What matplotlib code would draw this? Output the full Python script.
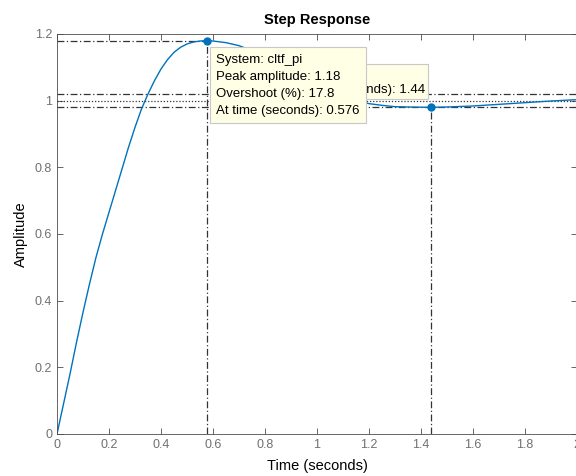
import matplotlib
matplotlib.use('Agg')
import matplotlib.pyplot as plt

# step response
t = [0, 0.025, 0.05, 0.075, 0.1, 0.125, 0.15, 0.175, 0.2, 0.225, 0.25, 0.275, 0.3,
     0.325, 0.35, 0.375, 0.4, 0.425, 0.45, 0.475, 0.5, 0.525, 0.55, 0.576,
     0.6, 0.65, 0.7, 0.75, 0.8, 0.85, 0.9, 0.95, 1.0, 1.05, 1.1, 1.15, 1.2, 1.25,
     1.3, 1.35, 1.44, 1.5, 1.6, 1.7, 1.8, 1.9, 2.0]
y = [0, 0.09, 0.18, 0.275, 0.365, 0.45, 0.53, 0.60, 0.665, 0.73, 0.795, 0.86, 0.92,
     0.975, 1.02, 1.06, 1.095, 1.123, 1.145, 1.16, 1.17, 1.176, 1.179, 1.18,
     1.179, 1.174, 1.165, 1.15, 1.132, 1.11, 1.088, 1.066, 1.045, 1.027, 1.012, 1.0, 0.991, 0.986,
     0.982, 0.981, 0.98, 0.981, 0.984, 0.989, 0.994, 0.999, 1.003]

peak_t, peak_y = 0.576, 1.18
settle_t, settle_y = 1.44, 0.98
final_value = 1.0
band = [0.98, 1.02]

xticks = [0, 0.2, 0.4, 0.6, 0.8, 1, 1.2, 1.4, 1.6, 1.8, 2]
xticklabels = ['0', '0.2', '0.4', '0.6', '0.8', '1', '1.2', '1.4', '1.6', '1.8', '2']
yticks = [0, 0.2, 0.4, 0.6, 0.8, 1, 1.2]
yticklabels = ['0', '0.2', '0.4', '0.6', '0.8', '1', '1.2']

plt.rcParams['font.family'] = ['Liberation Sans', 'DejaVu Sans']

fig = plt.figure(figsize=(5.76, 4.76), dpi=100)
ax = fig.add_axes([57 / 576, 42 / 476, 520 / 576, 400 / 476])

blue = '#0072BD'
gray = '#333333'
dashdot = (0, (5.5, 2, 1, 2))
dotted = (0, (1, 1.5))

# characteristic lines
ax.plot([0, peak_t], [peak_y, peak_y], color=gray, lw=0.9, ls=dashdot)
ax.plot([peak_t, peak_t], [0, peak_y], color=gray, lw=0.9, ls=dashdot)
ax.plot([settle_t, settle_t], [0, settle_y], color=gray, lw=0.9, ls=dashdot)
for b in band:
    ax.plot([0, 2], [b, b], color=gray, lw=0.9, ls=dashdot)
ax.plot([0, 2], [final_value, final_value], color=gray, lw=0.9, ls=dotted)

ax.plot(t, y, color=blue, lw=1)
ax.plot([peak_t, settle_t], [peak_y, settle_y], 'o', color=blue, ms=5)

# data tips
ax.text(1.415, 1.058, 'System: cltf_pi\nSettling time (seconds): 1.44',
        ha='right', va='center', multialignment='left', fontsize=9.5, linespacing=1.6,
        bbox=dict(boxstyle='square,pad=0.2', fc='#ffffe6', ec='#c8c8c8', lw=0.8), zorder=5)
ax.text(0.612, 1.141, 'System: cltf_pi\nPeak amplitude: 1.18\nOvershoot (%): 17.8\nAt time (seconds): 0.576',
        ha='left', va='top', fontsize=9.5, linespacing=1.55,
        bbox=dict(boxstyle='square,pad=0.5', fc='#ffffe6', ec='#c8c8c8', lw=0.8), zorder=6)

ax.set_xlim(0, 2)
ax.set_ylim(0, 1.2)
ax.set_xticks(xticks)
ax.set_xticklabels(xticklabels)
ax.set_yticks(yticks)
ax.set_yticklabels(yticklabels)
ax.tick_params(direction='in', length=4, width=0.6, colors='#4d4d4d', labelsize=9,
               top=True, right=True, labelcolor='#707070')
for s in ax.spines.values():
    s.set_color('#4d4d4d')
    s.set_linewidth(0.6)

ax.set_title('Step Response', fontsize=10.5, fontweight='bold', pad=7.5)
ax.set_xlabel('Time (seconds)', fontsize=10.5, labelpad=6)
ax.set_ylabel('Amplitude', fontsize=10.5, labelpad=5)

fig.savefig('out.png', dpi=100)
